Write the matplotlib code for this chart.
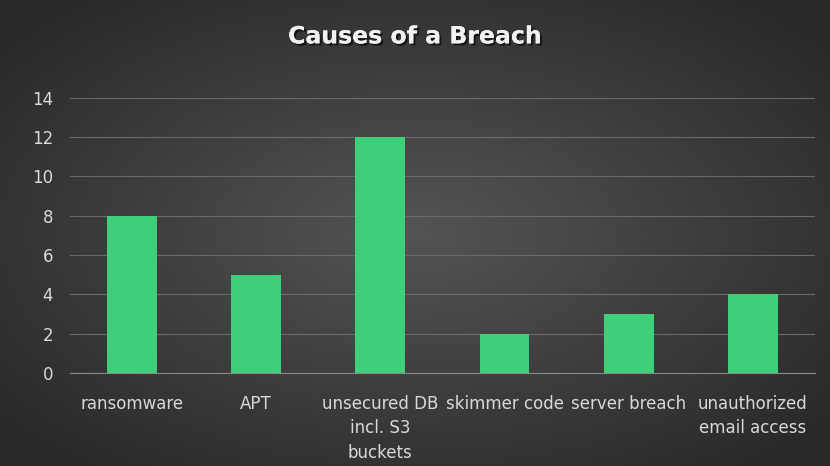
import numpy as np
import matplotlib
matplotlib.use("Agg")
import matplotlib.pyplot as plt
import matplotlib.patheffects as pe

categories = ["ransomware", "APT", "unsecured DB\nincl. S3\nbuckets", "skimmer code",
              "server breach", "unauthorized\nemail access"]
values = [8, 5, 12, 2, 3, 4]
yticks = [0, 2, 4, 6, 8, 10, 12, 14]

fig = plt.figure(figsize=(8.3, 4.66), dpi=100)
bg = fig.add_axes([0, 0, 1, 1])
yy, xx = np.mgrid[-1:1:300j, -1:1:500j]
r = np.sqrt(xx**2 + yy**2)
g = np.clip(0.33 - 0.13 * r, 0.16, 0.35)
bg.imshow(np.dstack([g, g, g]), aspect="auto", extent=[0, 1, 0, 1])
bg.axis("off")

ax = fig.add_axes([0.084, 0.2, 0.898, 0.59])
ax.patch.set_alpha(0)
x = np.arange(len(categories))
ax.bar(x, values, width=0.4, color="#3ecf78", zorder=3)
ax.set_ylim(0, 14)
ax.set_xlim(-0.5, len(categories) - 0.5)
ax.set_yticks(yticks)
ax.yaxis.grid(True, color="#6a6a6a", linewidth=0.8, zorder=0)
for s in ax.spines.values():
    s.set_visible(False)
ax.spines["bottom"].set_visible(True)
ax.spines["bottom"].set_color("#8a8a8a")
ax.set_xticks(x)
ax.set_xticklabels(categories, linespacing=1.45)
ax.tick_params(length=0, colors="#d9d9d9", labelsize=12)
ax.tick_params(axis="y", pad=12)
ax.tick_params(axis="x", pad=16)

fig.text(0.5, 0.922, "Causes of a Breach", ha="center", va="center", color="#f2f2f2",
         fontsize=17, fontweight="bold",
         path_effects=[pe.withSimplePatchShadow(offset=(1.5, -1.5), shadow_rgbFace="black", alpha=0.6), pe.Normal()])

fig.savefig("out.png", dpi=100)
